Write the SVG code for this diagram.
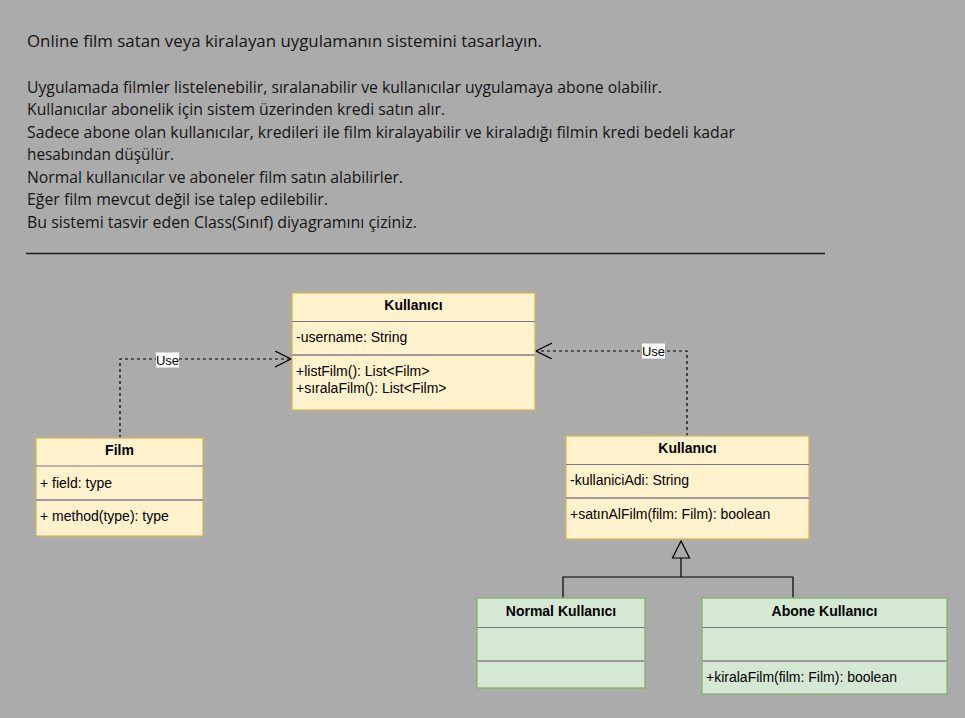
<svg xmlns="http://www.w3.org/2000/svg" width="965" height="718" viewBox="0 0 965 718">
<defs>
<style>
.desc{font-family:"Open Sans","Noto Sans","DejaVu Sans",sans-serif;font-size:15.5px;fill:#141414}
.cls{font-family:"Liberation Sans",Arial,sans-serif;font-size:14px;fill:#000}
.hdr{font-family:"Liberation Sans",Arial,sans-serif;font-size:14px;font-weight:bold;fill:#000;text-anchor:middle}
.y{fill:#fff2cc;stroke:#d6b656;stroke-width:1.3}
.g{fill:#d5e8d4;stroke:#82b366;stroke-width:1.3}
.d1{stroke:#737b87;stroke-width:1.2}
.d2{stroke:#9c9c9c;stroke-width:1.8}
.dash{fill:none;stroke:#000;stroke-width:1.2;stroke-dasharray:3 3}
.solid{fill:none;stroke:#000;stroke-width:1.2}
.lbl{font-family:"Liberation Sans",Arial,sans-serif;font-size:13px;fill:#000;text-anchor:middle}
</style>
<marker id="open" viewBox="0 0 20 20" refX="16" refY="8" markerWidth="20" markerHeight="20" markerUnits="userSpaceOnUse" orient="auto">
<path d="M0,0 L16,8 L0,16" fill="none" stroke="#000" stroke-width="1.2"/>
</marker>
</defs>
<rect x="0" y="0" width="965" height="718" fill="#ababab"/>
<g id="description">
<text class="desc" x="27" y="47" textLength="515" lengthAdjust="spacingAndGlyphs">Online film satan veya kiralayan uygulamanın sistemini tasarlayın.</text>
<text class="desc" x="27" y="92.5" textLength="635" lengthAdjust="spacingAndGlyphs">Uygulamada filmler listelenebilir, sıralanabilir ve kullanıcılar uygulamaya abone olabilir.</text>
<text class="desc" x="27" y="115" textLength="418" lengthAdjust="spacingAndGlyphs">Kullanıcılar abonelik için sistem üzerinden kredi satın alır.</text>
<text class="desc" x="27" y="137.5" textLength="708" lengthAdjust="spacingAndGlyphs">Sadece abone olan kullanıcılar, kredileri ile film kiralayabilir ve kiraladığı filmin kredi bedeli kadar</text>
<text class="desc" x="27" y="160" textLength="147" lengthAdjust="spacingAndGlyphs">hesabından düşülür.</text>
<text class="desc" x="27" y="182.5" textLength="376" lengthAdjust="spacingAndGlyphs">Normal kullanıcılar ve aboneler film satın alabilirler.</text>
<text class="desc" x="27" y="205" textLength="301" lengthAdjust="spacingAndGlyphs">Eğer film mevcut değil ise talep edilebilir.</text>
<text class="desc" x="27" y="227.5" textLength="390" lengthAdjust="spacingAndGlyphs">Bu sistemi tasvir eden Class(Sınıf) diyagramını çiziniz.</text>
<line x1="26" y1="253.5" x2="825" y2="253.5" stroke="#1a1a1a" stroke-width="1.5"/>
</g>
<g id="connectors">
<path class="dash" d="M120,438 L120,359 L291,359" marker-end="url(#open)"/>
<rect x="156" y="352.5" width="23" height="15" fill="#fff"/>
<text class="lbl" x="167.5" y="364.5">Use</text>
<path class="dash" d="M687,436 L687,351 L536,351" marker-end="url(#open)"/>
<rect x="642" y="343.5" width="23" height="15" fill="#fff"/>
<text class="lbl" x="653.5" y="355.5">Use</text>
<path class="solid" d="M563,598 L563,577 L793,577 L793,598 M681,577 L681,558"/>
<path class="solid" d="M681,541 L689.5,558 L672.5,558 Z" fill="none"/>
</g>
<g id="kullanici-top">
<rect class="y" x="292" y="293" width="243" height="117"/>
<line class="d1" x1="292" y1="321.5" x2="535" y2="321.5"/>
<line class="d2" x1="292" y1="355" x2="535" y2="355"/>
<text class="hdr" x="413.5" y="310">Kullanıcı</text>
<text class="cls" x="296" y="342">-username: String</text>
<text class="cls" x="296" y="375.5">+listFilm(): List&lt;Film&gt;</text>
<text class="cls" x="296" y="392.5">+sıralaFilm(): List&lt;Film&gt;</text>
</g>
<g id="film">
<rect class="y" x="36" y="438" width="167" height="98"/>
<line class="d1" x1="36" y1="466" x2="203" y2="466"/>
<line class="d2" x1="36" y1="500" x2="203" y2="500"/>
<text class="hdr" x="119.5" y="455">Film</text>
<text class="cls" x="40" y="487.5">+ field: type</text>
<text class="cls" x="40" y="521">+ method(type): type</text>
</g>
<g id="kullanici-right">
<rect class="y" x="566" y="436" width="243" height="103"/>
<line class="d1" x1="566" y1="464.5" x2="809" y2="464.5"/>
<line class="d2" x1="566" y1="498" x2="809" y2="498"/>
<text class="hdr" x="687.5" y="453">Kullanıcı</text>
<text class="cls" x="570" y="485">-kullaniciAdi: String</text>
<text class="cls" x="570" y="519">+satınAlFilm(film: Film): boolean</text>
</g>
<g id="normal-kullanici">
<rect class="g" x="477" y="598" width="168" height="90"/>
<line class="d1" x1="477" y1="627.5" x2="645" y2="627.5"/>
<line class="d2" x1="477" y1="661" x2="645" y2="661"/>
<text class="hdr" x="561" y="616">Normal Kullanıcı</text>
</g>
<g id="abone-kullanici">
<rect class="g" x="702" y="598" width="245" height="96"/>
<line class="d1" x1="702" y1="627.5" x2="947" y2="627.5"/>
<line class="d2" x1="702" y1="661" x2="947" y2="661"/>
<text class="hdr" x="824.5" y="616">Abone Kullanıcı</text>
<text class="cls" x="706" y="681.5">+kiralaFilm(film: Film): boolean</text>
</g>
</svg>
